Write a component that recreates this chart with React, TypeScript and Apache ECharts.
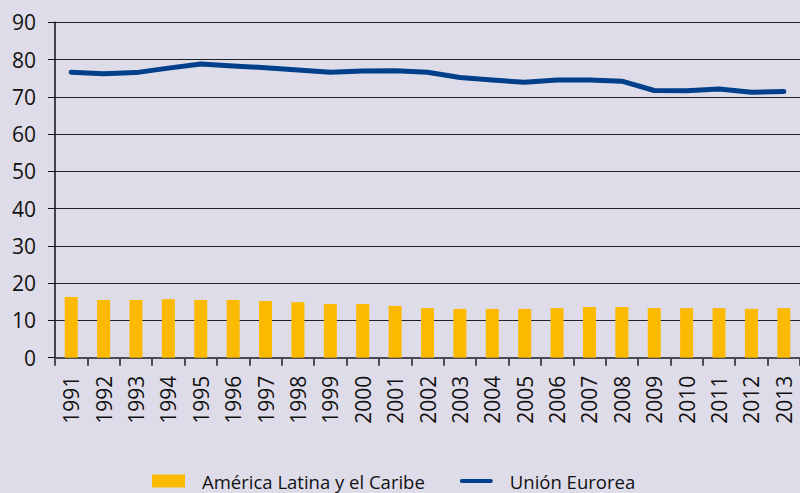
import React, { useEffect, useRef } from "react";
import * as echarts from "echarts";

const years = ["1991","1992","1993","1994","1995","1996","1997","1998","1999","2000","2001","2002","2003","2004","2005","2006","2007","2008","2009","2010","2011","2012","2013"];
const latamValues = [16.3,15.5,15.5,15.7,15.5,15.5,15.2,14.9,14.4,14.4,13.9,13.3,13.1,13.1,13.1,13.3,13.6,13.6,13.3,13.3,13.3,13.1,13.3];
const euValues = [76.6,76.2,76.5,77.7,78.8,78.3,77.8,77.2,76.6,76.9,77.0,76.6,75.2,74.5,73.9,74.5,74.5,74.2,71.7,71.6,72.1,71.2,71.4];
const yTicks = [0, 90, 10];

const FONT = "'Open Sans', 'Noto Sans', sans-serif";
const LINE_ICON = "path://M2,0 L30,0 A2,2 0 0 1 30,4 L2,4 A2,2 0 0 1 2,0 Z";

export default function App() {
  const ref = useRef<HTMLDivElement>(null);
  useEffect(() => {
    if (!ref.current) return;
    const chart = echarts.init(ref.current, null, { renderer: "svg" });
    chart.setOption({
      animation: false,
      backgroundColor: "#dfdcea",
      textStyle: { fontFamily: FONT },
      grid: { left: 55, right: -4, top: 22.3, bottom: 135.3, containLabel: false },
      legend: {
        left: 152,
        top: 471,
        padding: 0,
        itemWidth: 33,
        itemHeight: 13,
        itemGap: 35,
        textStyle: { fontSize: 18.5, lineHeight: 20, color: "#111", fontFamily: FONT, padding: [0, 0, 0, 12] },
        data: [
          { name: "América Latina y el Caribe", icon: "rect" },
          { name: "Unión Eurorea", icon: LINE_ICON },
        ],
      },
      xAxis: {
        type: "category",
        data: years,
        boundaryGap: true,
        axisLine: { lineStyle: { color: "#4a4a55", width: 2 } },
        axisTick: { show: true, length: 8, lineStyle: { color: "#4a4a55", width: 2 } },
        axisLabel: { rotate: 90, fontSize: 21, color: "#111", margin: 18, fontFamily: FONT },
      },
      yAxis: {
        type: "value",
        min: yTicks[0],
        max: yTicks[1],
        interval: yTicks[2],
        axisLine: { show: true, lineStyle: { color: "#111", width: 1.5 } },
        axisTick: { show: true, length: 7, lineStyle: { color: "#111", width: 1 } },
        splitLine: { show: true, lineStyle: { color: "#222", width: 1 } },
        axisLabel: { fontSize: 21, color: "#111", margin: 19, fontFamily: FONT },
      },
      series: [
        {
          name: "América Latina y el Caribe",
          type: "bar",
          data: latamValues,
          barWidth: 13,
          itemStyle: { color: "#fbb900" },
          z: 3,
        },
        {
          name: "Unión Eurorea",
          type: "line",
          data: euValues,
          symbol: "none",
          lineStyle: { color: "#003f8a", width: 5, cap: "round", join: "round" },
          itemStyle: { color: "#003f8a" },
          z: 4,
        },
      ],
    });
    return () => chart.dispose();
  }, []);
  return <div ref={ref} style={{ width: 800, height: 493, position: "fixed", left: 0, top: 0 }} />;
}
